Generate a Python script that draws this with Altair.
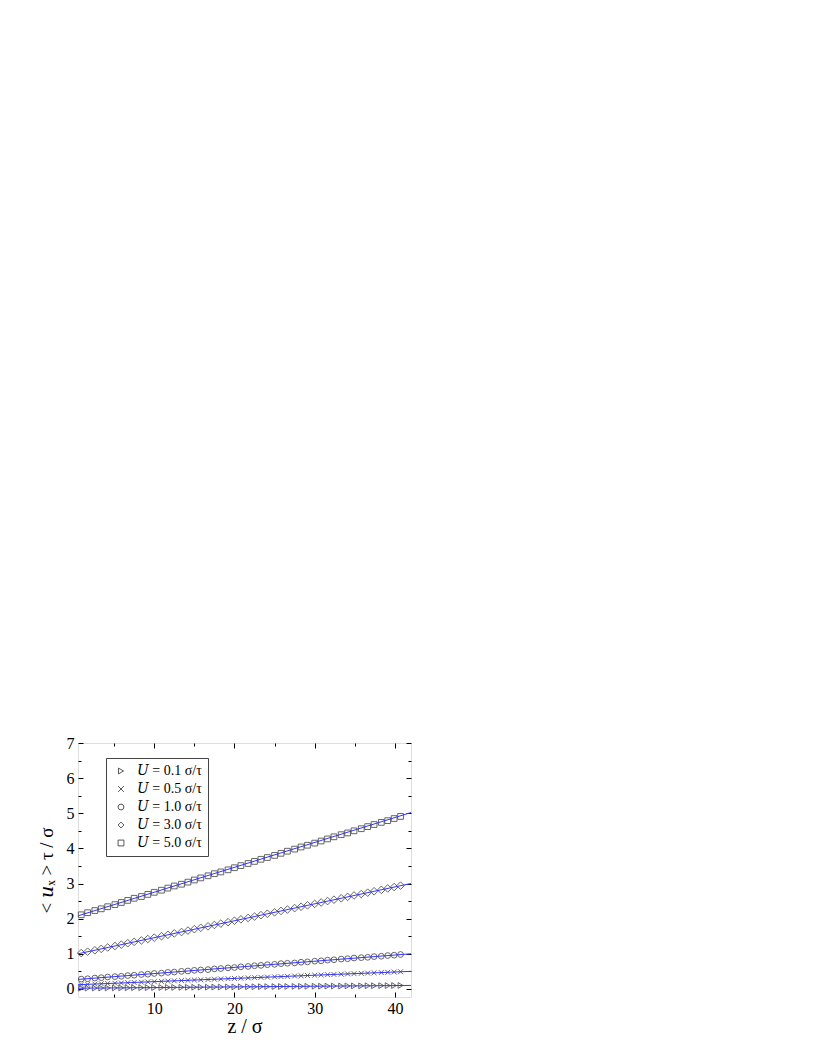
import altair as alt
import pandas as pd

# z positions of the sampled bins (z / sigma)
z = [0.9, 1.7, 2.6, 3.4, 4.2, 5.1, 5.9, 6.7, 7.5, 8.4, 9.2, 10.0, 10.9, 11.7, 12.5,
     13.4, 14.2, 15.0, 15.8, 16.7, 17.5, 18.3, 19.2, 20.0, 20.8, 21.7, 22.5, 23.3,
     24.1, 25.0, 25.8, 26.6, 27.5, 28.3, 29.1, 30.0, 30.8, 31.6, 32.4, 33.3, 34.1,
     34.9, 35.8, 36.6, 37.4, 38.3, 39.1, 39.9, 40.7]

u_01 = [.021, .022, .024, .026, .027, .029, .030, .032, .034, .035, .037, .038, .040,
        .042, .043, .045, .046, .048, .050, .051, .053, .054, .056, .058, .059, .061,
        .062, .064, .066, .067, .069, .070, .072, .074, .075, .077, .078, .080, .082,
        .083, .085, .086, .088, .090, .091, .093, .094, .096, .098]
u_05 = [.124, .131, .139, .147, .154, .162, .169, .177, .184, .192, .200, .207, .215,
        .222, .230, .238, .245, .253, .260, .268, .276, .283, .291, .298, .306, .314,
        .321, .329, .336, .344, .352, .359, .367, .374, .382, .390, .397, .405, .412,
        .420, .428, .435, .443, .450, .458, .466, .473, .481, .489]
u_10 = [.28, .29, .31, .32, .34, .35, .36, .38, .39, .41, .42, .44, .45, .47, .48, .50,
        .51, .53, .54, .55, .57, .58, .60, .61, .63, .64, .66, .67, .69, .70, .72, .73,
        .74, .76, .77, .79, .80, .82, .83, .85, .86, .88, .89, .90, .92, .93, .95, .96, .98]
u_30 = [1.02, 1.06, 1.10, 1.14, 1.18, 1.22, 1.26, 1.30, 1.34, 1.38, 1.42, 1.46, 1.50,
        1.54, 1.58, 1.62, 1.66, 1.70, 1.74, 1.78, 1.82, 1.86, 1.90, 1.94, 1.98, 2.02,
        2.06, 2.10, 2.14, 2.18, 2.22, 2.26, 2.30, 2.34, 2.38, 2.42, 2.46, 2.50, 2.54,
        2.58, 2.62, 2.66, 2.70, 2.74, 2.78, 2.82, 2.86, 2.90, 2.94]
u_50 = [2.11, 2.17, 2.23, 2.28, 2.34, 2.40, 2.46, 2.52, 2.58, 2.63, 2.69, 2.75, 2.81,
        2.87, 2.93, 2.98, 3.04, 3.10, 3.16, 3.22, 3.28, 3.33, 3.39, 3.45, 3.51, 3.57,
        3.63, 3.69, 3.74, 3.80, 3.86, 3.92, 3.98, 4.04, 4.09, 4.15, 4.21, 4.27, 4.33,
        4.39, 4.44, 4.50, 4.56, 4.62, 4.68, 4.74, 4.79, 4.85, 4.91]

labels = ["𝑈 = 0.1 σ/τ", "𝑈 = 0.5 σ/τ", "𝑈 = 1.0 σ/τ", "𝑈 = 3.0 σ/τ", "𝑈 = 5.0 σ/τ"]
series = [u_01, u_05, u_10, u_30, u_50]
shapes = ["triangle-right", "M-1,-1L1,1M-1,1L1,-1", "circle", "diamond", "square"]

# fitted straight lines (value at the left and right edge of the frame)
line_z = [0.5, 42.0]
line_left = [0.02, 0.12, 0.27, 1.00, 2.08]
line_right = [0.10, 0.50, 1.00, 3.00, 5.02]

x_major = [10, 20, 30, 40]
x_minor = [5, 15, 25, 35]
y_major = [0, 1, 2, 3, 4, 5, 6, 7]
y_minor = [0.5, 1.5, 2.5, 3.5, 4.5, 5.5, 6.5]

rows = []
for lab, vals in zip(labels, series):
    for zz, vv in zip(z, vals):
        rows.append({"z": zz, "u": vv, "series": lab})
pts = pd.DataFrame(rows)

lrows = []
for lab, a, b in zip(labels, line_left, line_right):
    lrows.append({"z": line_z[0], "u": a, "series": lab})
    lrows.append({"z": line_z[1], "u": b, "series": lab})
lines = pd.DataFrame(lrows)

FONT = "Liberation Serif, Times New Roman, DejaVu Serif, serif"
xs = alt.Scale(domain=[0.5, 42], nice=False, zero=False)
ys = alt.Scale(domain=[-0.23, 7], nice=False, zero=False)


def ax(orient, values, size, show_labels=False, title="", **kw):
    return alt.Axis(orient=orient, values=values, tickSize=size, offset=-size,
                    domain=False, grid=False, labels=show_labels, title=title,
                    tickColor="black", tickWidth=1, **kw)


legend = alt.Legend(title=None, orient="none", legendX=28, legendY=15,
                    labelFont=FONT, labelFontSize=14, labelColor="black",
                    symbolSize=34, symbolStrokeWidth=0.9,
                    symbolStrokeColor="#444", symbolFillColor="transparent",
                    strokeColor="#444", padding=6, rowPadding=4,
                    labelOffset=9, symbolOffset=2)

marker_size = (
    alt.when(alt.datum.series == labels[3]).then(alt.value(58))
    .when(alt.datum.series == labels[1]).then(alt.value(24))
    .otherwise(alt.value(33))
)

points = alt.Chart(pts).mark_point(filled=False, strokeWidth=0.9, opacity=1).encode(
    x=alt.X("z:Q", scale=xs,
            axis=ax("bottom", x_major, 5, True, "z / σ", labelFont=FONT, labelFontSize=16,
                    labelPadding=3, labelColor="black", titleFont=FONT, titleFontSize=20,
                    titleFontWeight="normal", titlePadding=0, titleColor="black", format="d")),
    y=alt.Y("u:Q", scale=ys,
            axis=ax("left", y_major, 5, True, "< 𝑢ₓ > τ / σ", labelFont=FONT, labelFontSize=16,
                    labelPadding=4, labelColor="black", titleFont=FONT, titleFontSize=19,
                    titleFontWeight="normal", titlePadding=10, titleColor="black", format="d")),
    shape=alt.Shape("series:N", scale=alt.Scale(domain=labels, range=shapes), legend=legend),
    size=marker_size,
    color=alt.value("#555555"),
)

fit = alt.Chart(lines).mark_line(color="#3535ff", strokeWidth=1).encode(
    x=alt.X("z:Q", scale=xs, axis=ax("top", x_major, 5)),
    y=alt.Y("u:Q", scale=ys, axis=ax("right", y_major, 5)),
    detail="series:N",
)

minor1 = alt.Chart(lines).mark_line(opacity=0).encode(
    x=alt.X("z:Q", scale=xs, axis=ax("bottom", x_minor, 3)),
    y=alt.Y("u:Q", scale=ys, axis=ax("left", y_minor, 3)),
    detail="series:N",
)
minor2 = alt.Chart(lines).mark_line(opacity=0).encode(
    x=alt.X("z:Q", scale=xs, axis=ax("top", x_minor, 3)),
    y=alt.Y("u:Q", scale=ys, axis=ax("right", y_minor, 3)),
    detail="series:N",
)

chart = alt.layer(points, fit, minor1, minor2).properties(
    width=333, height=254,
    padding={"left": 29, "top": 727, "right": 5, "bottom": 5},
).configure_view(stroke="black", strokeWidth=1).configure(background="white")

chart.save("out.html", embed_options={"renderer": "svg", "actions": False})
